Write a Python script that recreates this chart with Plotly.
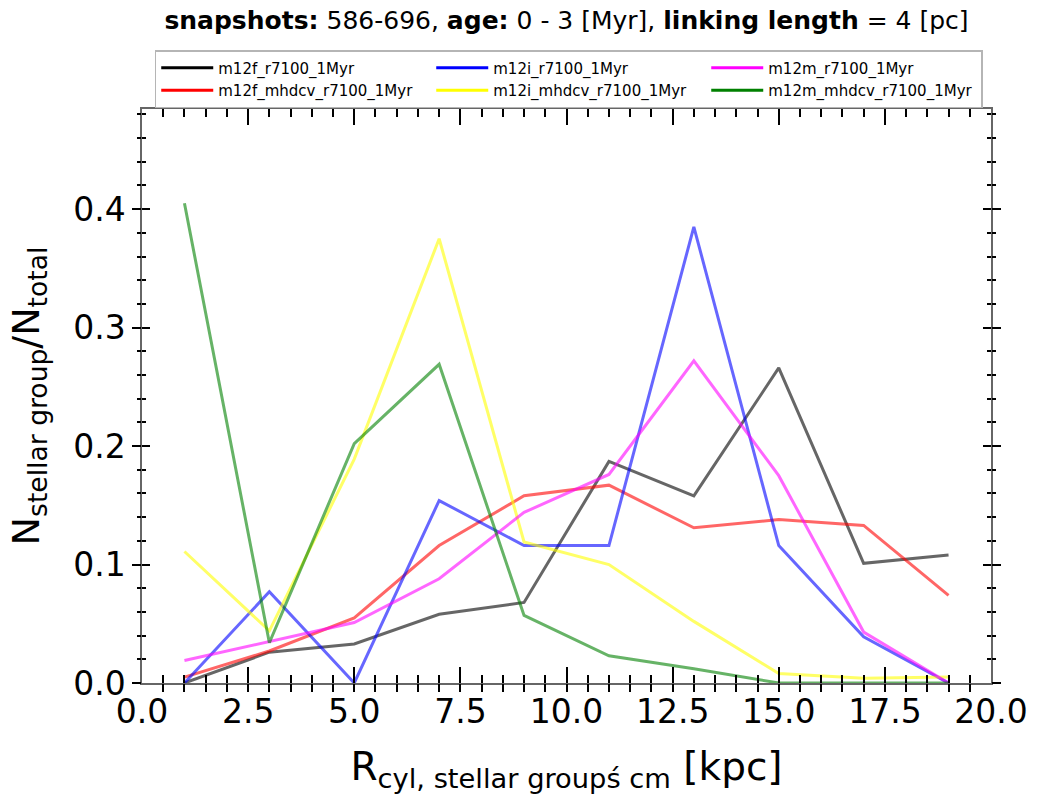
import plotly.graph_objects as go

# Radial bins (bin centres, kpc)
r_cyl = [1, 3, 5, 7, 9, 11, 13, 15, 17, 19]

# Fraction of stellar groups per radial bin
m12f_r7100 = [0.000, 0.026, 0.033, 0.058, 0.068, 0.187, 0.158, 0.266, 0.101, 0.108]
m12f_mhdcv = [0.005, 0.027, 0.055, 0.116, 0.158, 0.167, 0.131, 0.138, 0.133, 0.074]
m12i_r7100 = [0.000, 0.077, 0.000, 0.154, 0.116, 0.116, 0.385, 0.116, 0.039, 0.000]
m12i_mhdcv = [0.111, 0.044, 0.189, 0.375, 0.119, 0.100, 0.052, 0.008, 0.004, 0.005]
m12m_r7100 = [0.019, 0.035, 0.051, 0.088, 0.144, 0.176, 0.272, 0.175, 0.043, 0.000]
m12m_mhdcv = [0.405, 0.034, 0.202, 0.269, 0.057, 0.023, 0.012, 0.000, 0.000, 0.000]

names = ["m12f_r7100_1Myr", "m12f_mhdcv_r7100_1Myr",
         "m12i_r7100_1Myr", "m12i_mhdcv_r7100_1Myr",
         "m12m_r7100_1Myr", "m12m_mhdcv_r7100_1Myr"]
series = [m12f_r7100, m12f_mhdcv, m12i_r7100, m12i_mhdcv, m12m_r7100, m12m_mhdcv]
rgb = ["0,0,0", "255,0,0", "0,0,255", "255,255,0", "255,0,255", "0,128,0"]

# legend layout: three columns, row-wise order
legend_order = [0, 2, 4, 1, 3, 5]

FONT = "DejaVu Sans"
X_RANGE = [0, 20]
Y_RANGE = [0, 0.4845]

fig = go.Figure()

for vals, c in zip(series, rgb):
    fig.add_trace(go.Scatter(
        x=r_cyl, y=vals, mode="lines",
        line=dict(color=f"rgba({c},0.6)", width=3),
        showlegend=False, hoverinfo="skip",
    ))

# opaque legend keys (also keep the tick-overlay axes alive)
key_axes = ["y2", "y3", "y4", "y2", "y3", "y4"]
for k, i in enumerate(legend_order):
    fig.add_trace(go.Scatter(
        x=[None], y=[None], mode="lines", name=names[i],
        line=dict(color=f"rgb({rgb[i]})", width=3),
        xaxis="x2", yaxis=key_axes[k],
    ))


def tick_axis(**kw):
    base = dict(showgrid=False, zeroline=False, showline=False,
                showticklabels=False, tickcolor="black", tickwidth=2,
                mirror="allticks")
    base.update(kw)
    return base


fig.update_layout(
    width=1040, height=797,
    margin=dict(l=142, r=42, t=109, b=114),
    plot_bgcolor="white", paper_bgcolor="white",
    font=dict(family=FONT, color="black"),
    title=dict(
        text="<b>snapshots:</b> 586-696, <b>age:</b> 0 - 3 [Myr], "
             "<b>linking length</b> = 4 [pc]",
        x=0.5, xref="paper", xanchor="center",
        y=1 - 20 / 797, yref="container", yanchor="middle",
        font=dict(family=FONT, size=25, color="black"),
    ),
    legend=dict(
        orientation="h",
        x=0.015, xanchor="left", y=(683 - 50) / 574, yanchor="top",
        entrywidth=208, entrywidthmode="pixels", itemwidth=52,
        bgcolor="white", bordercolor="#b5b5b5", borderwidth=1.5,
        font=dict(family=FONT, size=15, color="black"),
        tracegroupgap=0,
    ),
    # main axes: major ticks + labels
    xaxis=dict(
        range=X_RANGE, dtick=2.5, tick0=0, tickformat=".1f",
        ticks="inside", ticklen=16, tickwidth=2, tickcolor="black",
        mirror="allticks", showline=True, linecolor="#666666", linewidth=1.5,
        showgrid=False, zeroline=False,
        tickfont=dict(family=FONT, size=33, color="black"),
        ticklabelstandoff=-1,
        title=dict(
            text="R<sub>cyl, stellar groupś cm</sub> [kpc]",
            font=dict(family=FONT, size=39, color="black"),
            standoff=22,
        ),
    ),
    yaxis=dict(
        range=Y_RANGE, dtick=0.1, tick0=0, tickformat=".1f",
        ticks="outside", ticklen=8, tickwidth=2, tickcolor="black",
        mirror="allticks", showline=True, linecolor="#666666", linewidth=1.5,
        showgrid=False, zeroline=False,
        tickfont=dict(family=FONT, size=33, color="black"),
        title=dict(
            text="N<sub>stellar group</sub>/N<sub>total</sub>",
            font=dict(family=FONT, size=38, color="black"),
            standoff=22,
        ),
    ),
    # overlay axes: minor x ticks, inward half of y ticks, minor y ticks
    xaxis2=tick_axis(range=X_RANGE, dtick=0.5, tick0=0, overlaying="x",
                     side="bottom", anchor="y", ticks="inside", ticklen=8),
    yaxis2=tick_axis(range=Y_RANGE, dtick=0.1, tick0=0, overlaying="y",
                     side="left", anchor="x", ticks="inside", ticklen=8),
    yaxis3=tick_axis(range=Y_RANGE, dtick=0.02, tick0=0, overlaying="y",
                     side="left", anchor="x", ticks="outside", ticklen=4),
    yaxis4=tick_axis(range=Y_RANGE, dtick=0.02, tick0=0, overlaying="y",
                     side="left", anchor="x", ticks="inside", ticklen=4),
)

fig.write_html("out.html")
